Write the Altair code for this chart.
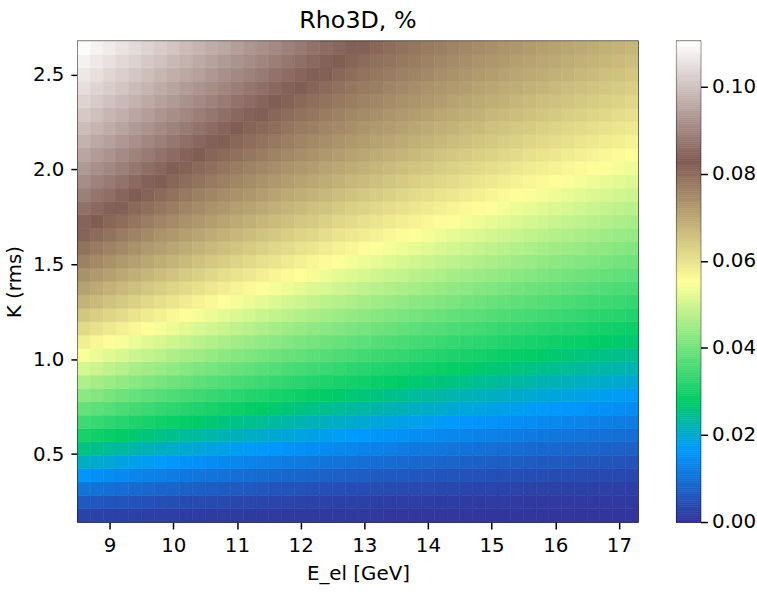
import altair as alt
import pandas as pd
import numpy as np

# Cell centres of the map
E_GEV = [8.6, 8.8, 9.0, 9.2, 9.4, 9.6, 9.8, 10.0, 10.2, 10.4, 10.6, 10.8, 11.0, 11.2, 11.4,
         11.6, 11.8, 12.0, 12.2, 12.4, 12.6, 12.8, 13.0, 13.2, 13.4, 13.6, 13.8, 14.0, 14.2,
         14.4, 14.6, 14.8, 15.0, 15.2, 15.4, 15.6, 15.8, 16.0, 16.2, 16.4, 16.6, 16.8, 17.0, 17.2]
K_RMS = [0.177, 0.2474, 0.3178, 0.3882, 0.4586, 0.529, 0.5994, 0.6698, 0.7402, 0.8106,
         0.881, 0.9514, 1.0218, 1.0922, 1.1626, 1.233, 1.3034, 1.3738, 1.4442, 1.5146,
         1.585, 1.6554, 1.7258, 1.7962, 1.8666, 1.937, 2.0074, 2.0778, 2.1482, 2.2186,
         2.289, 2.3594, 2.4298, 2.5002, 2.5706, 2.641]
E_HALF = 0.1
K_HALF = 0.0352

RHO_E08_6 = [26,63,108,159,209,257,301,345,387,428,468,507,545,581,616,649,681,711,739,766,792,816,841,865,888,911,932,953,974,993,1013,1030,1049,1065,1082,1098]
RHO_E08_8 = [24,60,103,152,202,249,293,336,377,418,457,495,532,568,603,636,668,698,725,752,777,802,826,850,873,895,917,938,959,978,998,1017,1034,1052,1068,1084]
RHO_E09_0 = [23,56,98,146,195,241,285,327,368,407,446,483,520,556,590,623,655,684,713,739,764,789,812,835,859,881,903,923,945,965,983,1002,1020,1037,1055,1071]
RHO_E09_2 = [22,53,94,140,188,234,277,318,358,398,436,472,509,544,578,611,643,671,700,726,751,775,799,821,844,867,888,909,930,950,969,988,1007,1024,1041,1057]
RHO_E09_4 = [21,51,90,134,181,226,269,310,349,388,426,462,498,532,566,599,630,659,688,714,739,763,786,807,830,852,874,895,916,936,955,974,992,1010,1028,1044]
RHO_E09_6 = [20,48,86,129,175,220,262,302,341,379,416,452,487,521,555,587,618,647,676,702,726,751,773,795,816,838,859,881,902,922,941,961,978,997,1014,1030]
RHO_E09_8 = [19,45,82,124,169,213,255,294,333,370,407,442,477,511,544,576,607,636,664,690,715,738,761,783,803,824,847,868,888,909,927,947,965,983,1001,1018]
RHO_E10_0 = [18,43,79,119,163,206,248,287,325,362,398,433,466,500,533,565,595,624,653,679,704,727,749,771,792,811,832,854,875,894,914,933,952,970,987,1005]
RHO_E10_2 = [17,41,75,114,158,200,241,280,317,353,389,423,457,490,522,554,584,613,641,667,692,716,738,760,780,800,819,840,861,881,901,919,938,957,974,991]
RHO_E10_4 = [16,39,72,110,152,194,234,273,309,345,380,414,448,480,512,543,573,603,630,656,681,705,727,749,768,789,807,827,848,867,887,907,925,944,961,979]
RHO_E10_6 = [15,37,69,106,147,188,228,266,302,338,372,406,439,471,503,533,563,592,619,646,671,694,717,738,758,778,796,814,835,855,875,894,912,930,949,966]
RHO_E10_8 = [14,36,66,102,142,183,222,259,295,330,364,398,430,461,493,523,553,582,609,636,661,684,706,728,747,767,786,803,822,842,862,881,900,918,936,954]
RHO_E11_0 = [13,34,63,98,137,177,216,253,288,323,356,389,421,453,483,514,543,572,599,625,650,674,697,717,737,756,775,793,810,829,849,868,886,905,923,940]
RHO_E11_2 = [12,32,61,94,132,172,210,247,282,316,349,382,413,444,474,504,533,562,589,615,640,664,687,707,728,746,765,783,799,816,837,856,874,893,911,928]
RHO_E11_4 = [11,31,58,91,127,167,204,241,276,309,342,374,405,436,466,495,524,552,579,605,630,654,676,698,718,737,754,772,789,806,824,843,862,880,898,915]
RHO_E11_6 = [11,29,56,88,123,162,199,235,269,302,335,367,397,428,457,486,515,543,570,596,621,645,666,688,708,727,745,762,780,796,812,831,850,868,886,904]
RHO_E11_8 = [10,28,54,85,119,157,194,229,263,296,328,359,390,420,449,478,506,534,561,587,611,635,658,678,699,718,736,753,770,786,801,819,838,856,874,892]
RHO_E12_0 = [10,26,51,82,115,152,189,224,257,290,322,352,383,412,441,469,497,525,552,577,602,625,648,670,690,709,727,744,761,777,792,807,826,844,862,879]
RHO_E12_2 = [9,25,49,79,112,148,184,218,252,284,315,346,376,405,433,461,489,516,543,568,593,617,640,660,681,701,718,735,751,768,783,797,813,833,850,868]
RHO_E12_4 = [9,24,47,76,108,143,179,213,246,278,309,339,368,397,426,453,480,508,534,559,584,608,630,652,672,691,709,727,743,758,774,789,803,821,838,856]
RHO_E12_6 = [9,23,45,73,104,139,174,208,241,272,303,333,362,390,418,446,473,499,525,551,575,599,621,643,663,683,702,718,735,750,765,780,793,809,827,845]
RHO_E12_8 = [8,22,43,71,101,135,169,203,235,267,297,326,355,384,411,438,465,491,517,542,567,590,613,634,655,674,693,710,727,742,756,771,785,799,816,834]
RHO_E13_0 = [8,21,42,68,98,130,165,198,230,261,291,320,349,377,404,431,457,483,509,534,558,582,605,626,646,666,685,702,718,734,748,763,777,790,804,821]
RHO_E13_2 = [8,20,40,66,95,127,161,193,225,256,285,314,343,370,397,424,450,476,501,526,550,574,596,617,639,658,676,694,710,725,741,755,769,782,794,810]
RHO_E13_4 = [7,20,39,64,92,123,156,189,220,251,280,308,337,364,391,417,443,468,493,518,542,566,588,610,630,650,668,686,703,718,733,747,761,774,787,799]
RHO_E13_6 = [7,19,37,62,89,119,152,184,216,246,275,303,331,358,384,410,436,461,486,510,534,558,580,602,622,642,661,678,695,711,725,739,753,766,779,791]
RHO_E13_8 = [7,18,36,60,86,116,148,180,211,241,270,297,325,352,378,404,429,454,478,503,526,550,572,594,614,634,653,670,687,703,718,732,745,759,771,783]
RHO_E14_0 = [7,17,35,58,84,113,144,176,206,236,264,292,319,346,372,397,423,447,471,495,519,542,564,586,607,626,646,663,680,696,711,725,738,752,764,776]
RHO_E14_2 = [6,17,34,56,81,110,140,171,202,231,259,287,314,340,366,391,416,440,464,488,511,534,557,579,599,619,637,655,672,688,703,718,731,744,756,769]
RHO_E14_4 = [6,16,32,54,79,106,136,167,197,226,255,282,308,334,360,385,410,434,457,481,504,527,549,571,591,611,631,648,665,681,696,710,724,737,749,761]
RHO_E14_6 = [6,15,31,52,77,103,133,163,193,222,250,277,303,329,354,379,403,427,451,474,497,520,542,563,584,604,623,641,658,673,689,703,717,730,742,754]
RHO_E14_8 = [6,15,30,50,74,101,129,160,189,218,245,272,298,324,349,373,397,421,444,467,490,513,534,556,577,597,616,634,651,667,683,697,710,723,736,747]
RHO_E15_0 = [5,14,29,48,72,98,126,156,185,213,241,267,293,318,343,367,391,415,438,461,483,506,527,549,569,589,608,627,644,660,675,690,704,717,729,740]
RHO_E15_2 = [5,14,28,47,70,95,123,152,181,209,236,263,288,313,338,362,386,409,432,454,477,499,520,542,562,582,602,619,637,653,668,684,697,710,723,734]
RHO_E15_4 = [5,13,27,45,68,92,120,148,177,205,232,258,283,308,332,356,380,403,426,448,470,492,513,535,555,575,594,613,630,646,662,677,691,704,716,728]
RHO_E15_6 = [5,12,26,44,66,90,117,145,173,201,228,254,279,303,328,351,375,397,420,442,464,485,507,528,548,568,587,605,623,640,656,670,685,698,710,722]
RHO_E15_8 = [5,12,24,42,64,88,114,141,169,197,223,249,274,298,322,346,369,392,414,436,458,479,500,521,541,561,580,599,616,633,649,663,678,692,704,715]
RHO_E16_0 = [4,11,24,41,62,86,111,138,166,193,219,245,270,294,317,341,364,386,408,430,452,473,494,514,535,555,574,592,610,626,642,657,671,685,698,709]
RHO_E16_2 = [4,11,23,40,61,83,108,135,162,189,215,241,265,289,313,336,358,381,403,425,446,467,487,508,528,548,567,585,603,620,636,652,665,679,692,703]
RHO_E16_4 = [4,10,22,39,59,81,105,131,159,185,211,236,261,285,308,331,353,376,397,419,440,460,481,502,522,541,561,579,597,613,630,645,659,673,686,698]
RHO_E16_6 = [4,10,22,38,57,79,103,128,155,182,207,232,257,280,303,326,348,370,392,413,434,455,475,495,515,535,554,573,590,607,623,639,653,666,680,692]
RHO_E16_8 = [4,10,21,36,55,77,100,125,152,178,204,228,253,276,299,321,343,365,387,408,429,449,469,489,509,528,548,566,584,601,617,633,647,660,674,686]
RHO_E17_0 = [4,9,20,35,54,75,98,122,149,175,200,225,249,272,294,317,339,360,382,402,423,443,463,483,503,522,541,560,578,595,610,627,641,655,668,680]
RHO_E17_2 = [3,9,20,34,52,73,95,120,145,171,196,221,245,268,290,312,334,355,377,397,418,438,458,477,497,516,535,554,572,589,605,620,635,649,662,675]

RHO_COLUMNS = [RHO_E08_6, RHO_E08_8, RHO_E09_0, RHO_E09_2, RHO_E09_4, RHO_E09_6, RHO_E09_8,
               RHO_E10_0, RHO_E10_2, RHO_E10_4, RHO_E10_6, RHO_E10_8, RHO_E11_0, RHO_E11_2,
               RHO_E11_4, RHO_E11_6, RHO_E11_8, RHO_E12_0, RHO_E12_2, RHO_E12_4, RHO_E12_6,
               RHO_E12_8, RHO_E13_0, RHO_E13_2, RHO_E13_4, RHO_E13_6, RHO_E13_8, RHO_E14_0,
               RHO_E14_2, RHO_E14_4, RHO_E14_6, RHO_E14_8, RHO_E15_0, RHO_E15_2, RHO_E15_4,
               RHO_E15_6, RHO_E15_8, RHO_E16_0, RHO_E16_2, RHO_E16_4, RHO_E16_6, RHO_E16_8,
               RHO_E17_0, RHO_E17_2]

X_TICKS = [9, 10, 11, 12, 13, 14, 15, 16, 17]
Y_TICKS = [0.5, 1.0, 1.5, 2.0, 2.5]
CBAR_TICKS = [0.0, 0.02, 0.04, 0.06, 0.08, 0.10]
VMAX = 0.1105

# terrain colormap stops
TERRAIN_POS = [0.0, 0.15, 0.25, 0.50, 0.75, 1.0]
TERRAIN_COL = ["#333399", "#0099ff", "#00cc66", "#ffff99", "#805c54", "#ffffff"]

rows = []
for e, col in zip(E_GEV, RHO_COLUMNS):
    for k, v in zip(K_RMS, col):
        rows.append({"e0": e - E_HALF, "e1": e + E_HALF,
                     "k0": k - K_HALF, "k1": k + K_HALF, "rho": v / 10000.0})
df = pd.DataFrame(rows)

color_scale = alt.Scale(domain=[p * VMAX for p in TERRAIN_POS], range=TERRAIN_COL,
                        interpolate="rgb", clamp=True)

FONT = "DejaVu Sans"

heat = alt.Chart(df).mark_rect(strokeWidth=0.6).encode(
    x=alt.X("e0:Q", scale=alt.Scale(domain=[E_GEV[0] - E_HALF, E_GEV[-1] + E_HALF], nice=False, zero=False),
            axis=alt.Axis(values=X_TICKS, format="d", title="E_el [GeV]")),
    x2="e1:Q",
    y=alt.Y("k0:Q", scale=alt.Scale(domain=[K_RMS[0] - K_HALF, K_RMS[-1] + K_HALF], nice=False, zero=False),
            axis=alt.Axis(values=Y_TICKS, format=".1f", title="K (rms)")),
    y2="k1:Q",
    color=alt.Color("rho:Q", scale=color_scale, legend=None),
    stroke=alt.Color("rho:Q", scale=color_scale, legend=None),
).properties(
    width=565, height=485,
    title=alt.TitleParams("Rho3D, %", fontSize=24, font=FONT, fontWeight="normal",
                          color="black", offset=8, anchor="middle"),
)

# colour bar
levels = np.arange(0.0, VMAX, 0.0005)
cb = pd.DataFrame({"lo": levels, "hi": levels + 0.0005, "mid": levels + 0.00025})
cbar = alt.Chart(cb).mark_rect(strokeWidth=0.6).encode(
    x=alt.value(0), x2=alt.value(24),
    y=alt.Y("lo:Q", scale=alt.Scale(domain=[0, VMAX], nice=False, zero=False),
            axis=alt.Axis(orient="right", values=CBAR_TICKS, format=".2f", title=None,
                          labelPadding=4)),
    y2="hi:Q",
    color=alt.Color("mid:Q", scale=color_scale, legend=None),
    stroke=alt.Color("mid:Q", scale=color_scale, legend=None),
).properties(width=24, height=485)

chart = alt.hconcat(heat, cbar, spacing=35).properties(
    padding={"left": 3.5, "top": 5, "right": 0, "bottom": 0}
).configure_view(
    stroke="black", strokeWidth=1.5
).configure_axis(
    grid=False, domain=False, tickColor="black", tickSize=7, tickWidth=1.5,
    labelFont=FONT, labelFontSize=20, labelColor="black", labelPadding=7,
    titleFont=FONT, titleFontSize=20, titleColor="black", titleFontWeight="normal",
    titlePadding=8,
)

chart.save("out.html", embed_options={"renderer": "svg", "actions": False})
